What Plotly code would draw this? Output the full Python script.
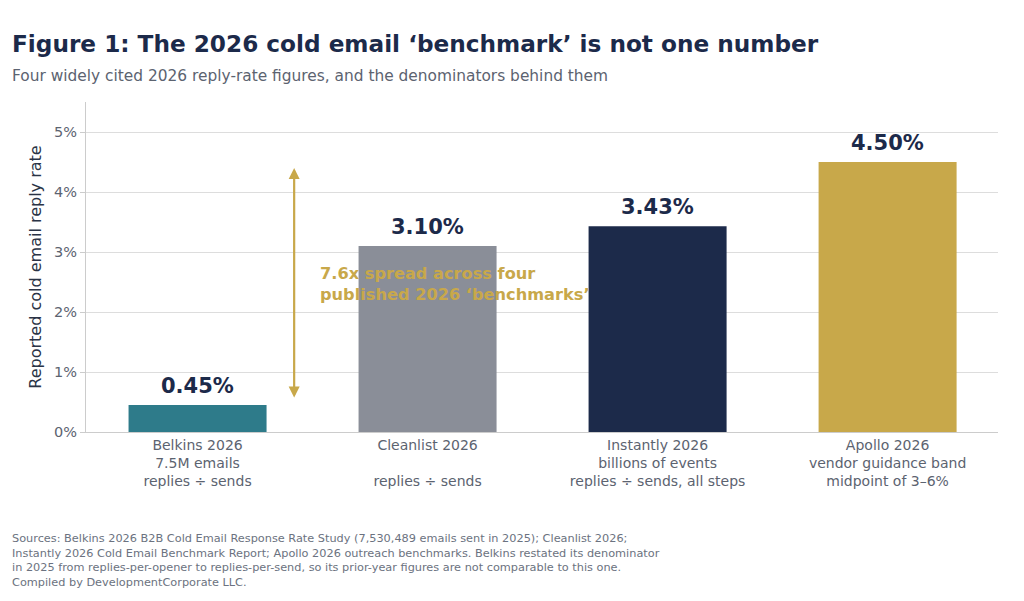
import plotly.graph_objects as go

categories = ["Belkins 2026", "Cleanlist 2026", "Instantly 2026", "Apollo 2026"]
sublines = [["7.5M emails", "replies ÷ sends"],
            ["&nbsp;", "replies ÷ sends"],
            ["billions of events", "replies ÷ sends, all steps"],
            ["vendor guidance band", "midpoint of 3–6%"]]
values = [0.45, 3.10, 3.43, 4.50]
bar_colors = ["#2e7b8a", "#8a8e98", "#1c2a4a", "#c8a84a"]
y_ticks = [0, 1, 2, 3, 4, 5]
y_tick_labels = ["0%", "1%", "2%", "3%", "4%", "5%"]

spread_low = 0.55
spread_high = 4.40

NAVY = "#1c2a4a"
GOLD = "#c8a84a"
FONT = "DejaVu Sans"

tick_text = [c + "<br>" + "<br>".join(s) for c, s in zip(categories, sublines)]

fig = go.Figure()
fig.add_trace(go.Bar(
    x=list(range(len(categories))), y=values, width=0.6,
    marker=dict(color=bar_colors, line=dict(width=0)),
    hoverinfo="skip",
))

for i, v in enumerate(values):
    fig.add_annotation(x=i, y=v, xref="x", yref="y", text=f"<b>{v:.2f}%</b>",
                       showarrow=False, yanchor="bottom", yshift=5,
                       font=dict(family=FONT, size=21, color=NAVY))

# spread arrow
fig.add_annotation(x=0.42, y=spread_high, ax=0.42, ay=spread_low,
                   xref="x", yref="y", axref="x", ayref="y",
                   text="", showarrow=True, arrowhead=2, arrowside="end+start",
                   arrowsize=1, arrowwidth=2.2, arrowcolor=GOLD)
fig.add_annotation(x=0.525, y=2.47, xref="x", yref="y",
                   text="<b>7.6x spread across four<br>published 2026 ‘benchmarks’</b>",
                   showarrow=False, xanchor="left", yanchor="middle", align="left",
                   font=dict(family=FONT, size=16.2, color=GOLD))

# pixel helpers (reference pixel coords -> paper coords); plot area 86..998 x 102..432
def py(p):
    return (432 - p) / 330.0

def px(p):
    return (p - 86) / 912.0

fig.add_annotation(x=px(10), y=py(43), xref="paper", yref="paper",
                   text="<b>Figure 1: The 2026 cold email ‘benchmark’ is not one number</b>",
                   showarrow=False, xanchor="left", yanchor="middle",
                   font=dict(family=FONT, size=23.2, color=NAVY))
fig.add_annotation(x=px(10), y=py(76), xref="paper", yref="paper",
                   text="Four widely cited 2026 reply-rate figures, and the denominators behind them",
                   showarrow=False, xanchor="left", yanchor="middle",
                   font=dict(family=FONT, size=15.4, color="#5c6370"))
fig.add_annotation(x=px(10), y=py(530), xref="paper", yref="paper",
                   text=("Sources: Belkins 2026 B2B Cold Email Response Rate Study (7,530,489 emails sent in 2025); Cleanlist 2026;<br>"
                         "Instantly 2026 Cold Email Benchmark Report; Apollo 2026 outreach benchmarks. Belkins restated its denominator<br>"
                         "in 2025 from replies-per-opener to replies-per-send, so its prior-year figures are not comparable to this one.<br>"
                         "Compiled by DevelopmentCorporate LLC."),
                   showarrow=False, xanchor="left", yanchor="top", align="left",
                   font=dict(family=FONT, size=11.3, color="#6b7280"))

# page body has an 8px margin, so shift the figure up/left by 8px
fig.update_layout(
    width=1024, height=601,
    margin=dict(l=78, r=34, t=94, b=177, autoexpand=False),
    paper_bgcolor="white", plot_bgcolor="white",
    showlegend=False,
    font=dict(family=FONT),
    xaxis=dict(range=[-0.485, 3.48], tickmode="array",
               tickvals=list(range(len(categories))), ticktext=tick_text,
               tickfont=dict(family=FONT, size=14, color="#5c6370"),
               showgrid=False, zeroline=False, showline=True,
               linecolor="#cccccc", linewidth=1, ticks="", fixedrange=True),
    yaxis=dict(range=[0, 5.5], tickmode="array", tickvals=y_ticks,
               ticktext=y_tick_labels,
               tickfont=dict(family=FONT, size=14.5, color="#5c6370"),
               showgrid=True, gridcolor="#dddddd", gridwidth=1,
               zeroline=False, showline=True, linecolor="#cccccc", linewidth=1,
               ticks="outside", ticklen=5, tickcolor="#cccccc",
               title=dict(text="Reported cold email reply rate", standoff=8,
                          font=dict(family=FONT, size=16, color="#2a3345"))),
)

fig.write_html("out.html")
